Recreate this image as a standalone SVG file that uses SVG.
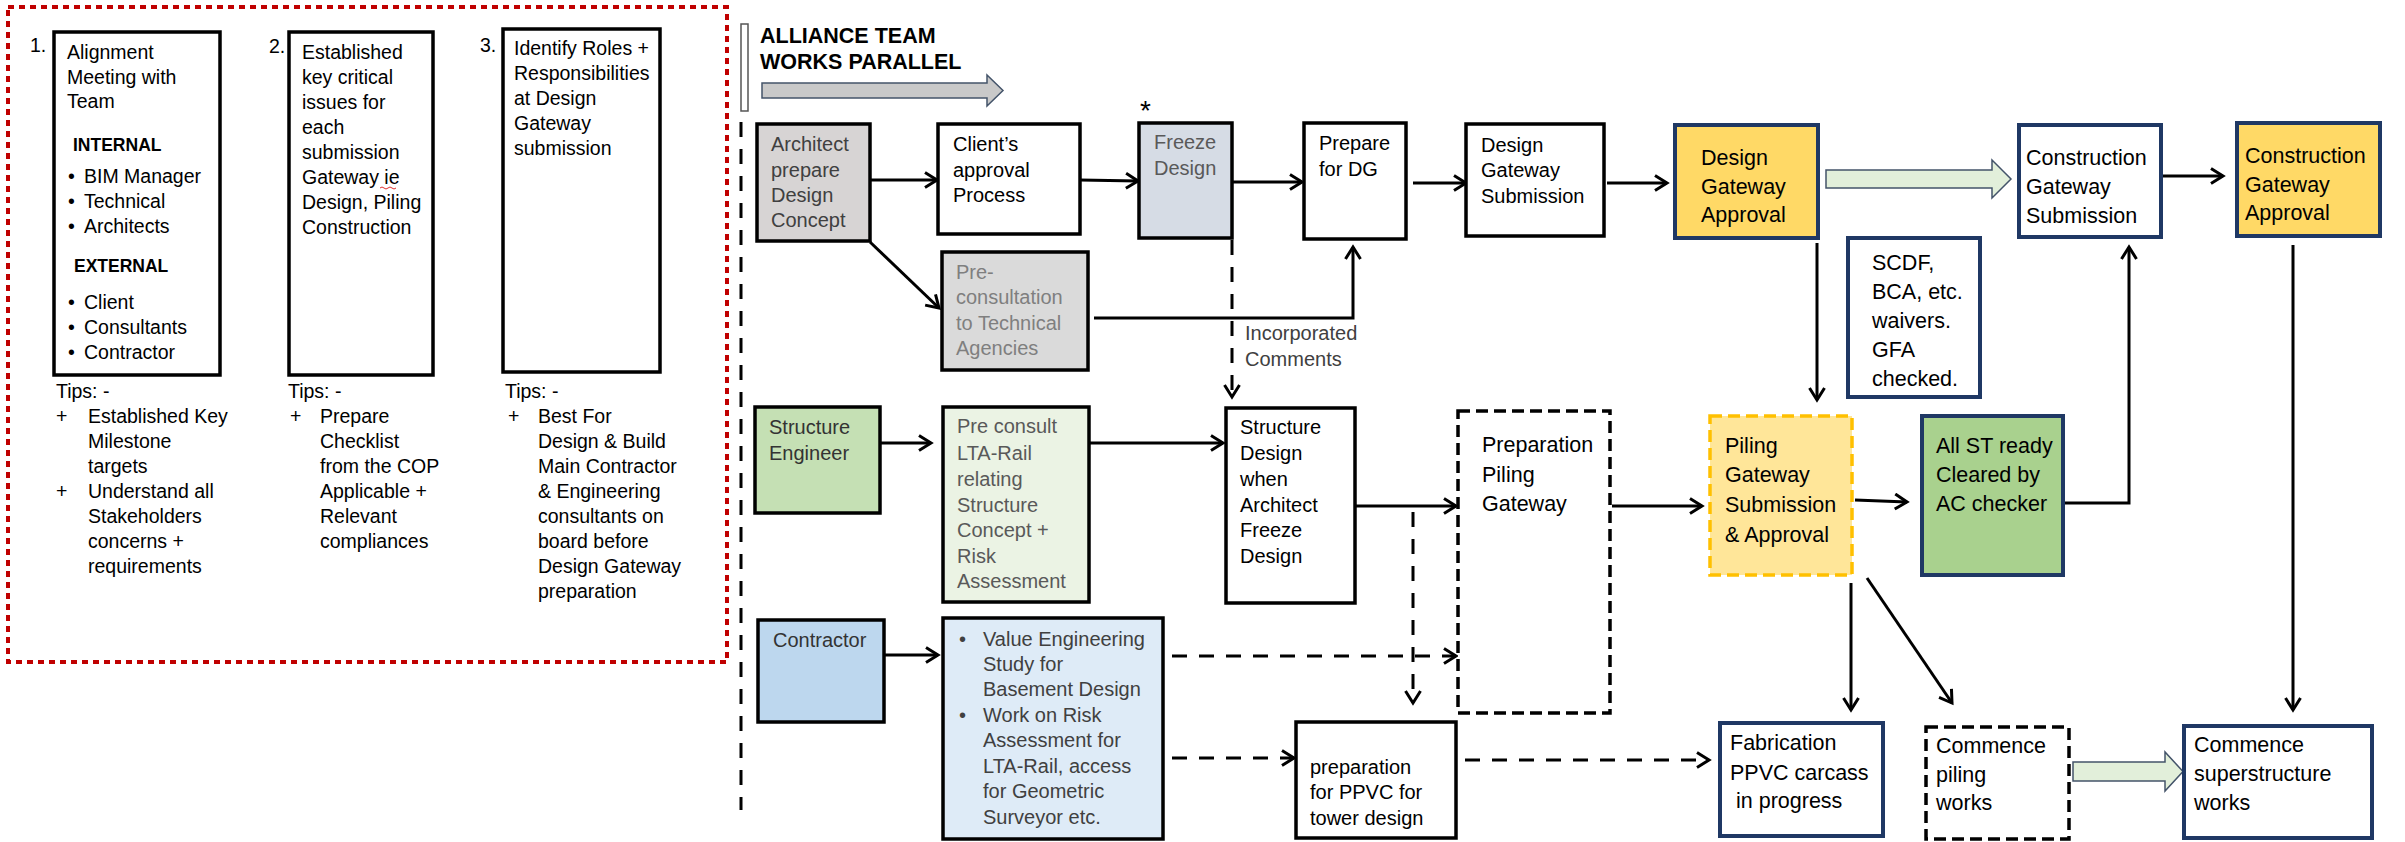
<svg xmlns="http://www.w3.org/2000/svg" width="2405" height="842" viewBox="0 0 2405 842">
<style>
text { font-family: "Liberation Sans", Arial, sans-serif; fill: #000; }
.tp { font-size: 19.5px; }
.t { font-size: 20px; }
.tl { font-size: 21.5px; }
.bold { font-weight: bold; }
.box { stroke: #000; stroke-width: 3.5; fill: #fff; }
.nv { stroke: #1f3864; stroke-width: 4; }
.dsh { stroke-dasharray: 12 6; }
.c { fill: none; stroke: #000; stroke-width: 3; }
.cd { stroke-dasharray: 15 12; }
.g1 { fill: #404040; }
.g2 { fill: #595959; }
.g3 { fill: #7f7f7f; }
</style>
<defs>
<marker id="ah" viewBox="0 0 18 18" refX="15" refY="9" markerWidth="18" markerHeight="18" orient="auto" markerUnits="userSpaceOnUse">
<path d="M3,1.5 L15,9 L3,16.5" fill="none" stroke="#000" stroke-width="3"/>
</marker>
</defs>
<rect width="2405" height="842" fill="#fff"/>

<!-- Left panel -->
<g id="left-panel">
<rect x="8" y="7" width="719" height="655" fill="none" stroke="#c00000" stroke-width="4" stroke-dasharray="6 5"/>
</g>
<g id="step1">
<text class="tp" x="30" y="52">1.</text>
<rect class="box" x="54" y="32" width="166" height="343"/>
<text class="tp" x="67" y="59">Alignment</text>
<text class="tp" x="67" y="84">Meeting with</text>
<text class="tp" x="67" y="108">Team</text>
<text class="tp bold" x="73" y="151" style="font-size:17.5px">INTERNAL</text>
<text class="tp" x="68" y="183">•</text><text class="tp" x="84" y="183">BIM Manager</text>
<text class="tp" x="68" y="208">•</text><text class="tp" x="84" y="208">Technical</text>
<text class="tp" x="68" y="233">•</text><text class="tp" x="84" y="233">Architects</text>
<text class="tp bold" x="74" y="272" style="font-size:17.5px">EXTERNAL</text>
<text class="tp" x="68" y="309">•</text><text class="tp" x="84" y="309">Client</text>
<text class="tp" x="68" y="334">•</text><text class="tp" x="84" y="334">Consultants</text>
<text class="tp" x="68" y="359">•</text><text class="tp" x="84" y="359">Contractor</text>
<text class="tp" x="56" y="398">Tips: -</text>
<text class="tp" x="56" y="423">+</text><text class="tp" x="88" y="423">Established Key</text>
<text class="tp" x="88" y="448">Milestone</text>
<text class="tp" x="88" y="473">targets</text>
<text class="tp" x="56" y="498">+</text><text class="tp" x="88" y="498">Understand all</text>
<text class="tp" x="88" y="523">Stakeholders</text>
<text class="tp" x="88" y="548">concerns +</text>
<text class="tp" x="88" y="573">requirements</text>
</g>
<g id="step2">
<text class="tp" x="269" y="53">2.</text>
<rect class="box" x="289" y="32" width="144" height="343"/>
<text class="tp" x="302" y="59">Established</text>
<text class="tp" x="302" y="84">key critical</text>
<text class="tp" x="302" y="109">issues for</text>
<text class="tp" x="302" y="134">each</text>
<text class="tp" x="302" y="159">submission</text>
<text class="tp" x="302" y="184">Gateway ie</text>
<path d="M380,188 q2,-2 4,0 t4,0 t4,0 t4,0" fill="none" stroke="#e03030" stroke-width="1"/>
<text class="tp" x="302" y="209">Design, Piling</text>
<text class="tp" x="302" y="234">Construction</text>
<text class="tp" x="288" y="398">Tips: -</text>
<text class="tp" x="290" y="423">+</text><text class="tp" x="320" y="423">Prepare</text>
<text class="tp" x="320" y="448">Checklist</text>
<text class="tp" x="320" y="473">from the COP</text>
<text class="tp" x="320" y="498">Applicable +</text>
<text class="tp" x="320" y="523">Relevant</text>
<text class="tp" x="320" y="548">compliances</text>
</g>
<g id="step3">
<text class="tp" x="480" y="52">3.</text>
<rect class="box" x="503" y="29" width="157" height="343"/>
<text class="tp" x="514" y="55">Identify Roles +</text>
<text class="tp" x="514" y="80">Responsibilities</text>
<text class="tp" x="514" y="105">at Design</text>
<text class="tp" x="514" y="130">Gateway</text>
<text class="tp" x="514" y="155">submission</text>
<text class="tp" x="505" y="398">Tips: -</text>
<text class="tp" x="508" y="423">+</text><text class="tp" x="538" y="423">Best For</text>
<text class="tp" x="538" y="448">Design &amp; Build</text>
<text class="tp" x="538" y="473">Main Contractor</text>
<text class="tp" x="538" y="498">&amp; Engineering</text>
<text class="tp" x="538" y="523">consultants on</text>
<text class="tp" x="538" y="548">board before</text>
<text class="tp" x="538" y="573">Design Gateway</text>
<text class="tp" x="538" y="598">preparation</text>
</g>

<!-- Header -->
<g id="alliance-header">
<rect x="741" y="24" width="7" height="87" fill="#fff" stroke="#555" stroke-width="1.5"/>
<text class="bold" x="760" y="43" style="font-size:21.5px">ALLIANCE TEAM</text>
<text class="bold" x="760" y="69" style="font-size:21.5px">WORKS PARALLEL</text>
<path d="M762,83 H987 V75 L1003,90.5 L987,106 V98 H762 Z" fill="#c9c9c9" stroke="#44546a" stroke-width="1.5"/>
<text x="1140" y="120" style="font-size:28px">*</text>
</g>

<!-- Connectors -->
<g id="connectors">
<path class="c cd" d="M741,122 V810" stroke-width="3.5"/>
<path class="c" d="M870,180 H937" marker-end="url(#ah)"/>
<path class="c" d="M1080,180 L1138,181" marker-end="url(#ah)"/>
<path class="c" d="M1232,182 H1302" marker-end="url(#ah)"/>
<path class="c" d="M1413,183 H1466" marker-end="url(#ah)"/>
<path class="c" d="M1607,183 H1667" marker-end="url(#ah)"/>
<path d="M1826,170 H1992 V160 L2011,179 L1992,198 V188 H1826 Z" fill="#e2efda" stroke="#44546a" stroke-width="1.5"/>
<path class="c" d="M2161,176 H2223" marker-end="url(#ah)"/>
<path class="c" d="M870,242 L939,308" marker-end="url(#ah)"/>
<path class="c" d="M1094,318 H1353 V247" marker-end="url(#ah)"/>
<path class="c cd" d="M1232,240 V397" marker-end="url(#ah)"/>
<path class="c" d="M880,443 H931" marker-end="url(#ah)"/>
<path class="c" d="M1089,443 H1223" marker-end="url(#ah)"/>
<path class="c" d="M1355,506 H1456" marker-end="url(#ah)"/>
<path class="c cd" d="M1413,512 V703" marker-end="url(#ah)"/>
<path class="c" d="M884,655 H938" marker-end="url(#ah)"/>
<path class="c cd" d="M1172,656 H1456" marker-end="url(#ah)"/>
<path class="c cd" d="M1172,758 H1294" marker-end="url(#ah)"/>
<path class="c cd" d="M1465,760 H1709" marker-end="url(#ah)"/>
<path class="c" d="M1612,506 H1702" marker-end="url(#ah)"/>
<path class="c" d="M1817,243 V400" marker-end="url(#ah)"/>
<path class="c" d="M1855,500 L1907,502" marker-end="url(#ah)"/>
<path class="c" d="M2063,503 H2129 V247" marker-end="url(#ah)"/>
<path class="c" d="M1851,583 V710" marker-end="url(#ah)"/>
<path class="c" d="M1867,578 L1952,703" marker-end="url(#ah)"/>
<path class="c" d="M2293,245 V710" marker-end="url(#ah)"/>
<path d="M2073,762 H2165 V752 L2183,771.5 L2165,791 V781 H2073 Z" fill="#e2efda" stroke="#44546a" stroke-width="1.5"/>
<text class="t g1" x="1245" y="340">Incorporated</text>
<text class="t g1" x="1245" y="366">Comments</text>
</g>

<!-- Nodes -->
<g id="architect">
<rect class="box" x="757" y="124" width="113" height="117" fill="#d7d4d4" style="fill:#d7d4d4"/>
<text class="t g1" x="771" y="151">Architect</text>
<text class="t g1" x="771" y="177">prepare</text>
<text class="t g1" x="771" y="202">Design</text>
<text class="t g1" x="771" y="227">Concept</text>
</g>
<g id="client-approval">
<rect class="box" x="938" y="124" width="142" height="110"/>
<text class="t" x="953" y="151">Client’s</text>
<text class="t" x="953" y="177">approval</text>
<text class="t" x="953" y="202">Process</text>
</g>
<g id="freeze-design">
<rect class="box" x="1139" y="123" width="93" height="115" style="fill:#d6dce5"/>
<text class="t g2" x="1154" y="149">Freeze</text>
<text class="t g2" x="1154" y="175">Design</text>
</g>
<g id="prepare-dg">
<rect class="box" x="1304" y="123" width="102" height="116"/>
<text class="t" x="1319" y="150">Prepare</text>
<text class="t" x="1319" y="176">for DG</text>
</g>
<g id="dg-submission">
<rect class="box" x="1466" y="124" width="138" height="112"/>
<text class="t" x="1481" y="152">Design</text>
<text class="t" x="1481" y="177">Gateway</text>
<text class="t" x="1481" y="203">Submission</text>
</g>
<g id="dg-approval">
<rect class="nv" x="1675" y="125" width="143" height="113" fill="#ffd966"/>
<text class="tl" x="1701" y="165">Design</text>
<text class="tl" x="1701" y="194">Gateway</text>
<text class="tl" x="1701" y="222">Approval</text>
</g>
<g id="cg-submission">
<rect class="nv" x="2019" y="125" width="142" height="112" fill="#fff"/>
<text class="tl" x="2026" y="165">Construction</text>
<text class="tl" x="2026" y="194">Gateway</text>
<text class="tl" x="2026" y="223">Submission</text>
</g>
<g id="cg-approval">
<rect class="nv" x="2237" y="123" width="143" height="113" fill="#ffd966"/>
<text class="tl" x="2245" y="163">Construction</text>
<text class="tl" x="2245" y="192">Gateway</text>
<text class="tl" x="2245" y="220">Approval</text>
</g>
<g id="pre-consultation">
<rect class="box" x="942" y="252" width="146" height="118" style="fill:#dadada"/>
<text class="t g3" x="956" y="279">Pre-</text>
<text class="t g3" x="956" y="304">consultation</text>
<text class="t g3" x="956" y="330">to Technical</text>
<text class="t g3" x="956" y="355">Agencies</text>
</g>
<g id="scdf-note">
<rect class="nv" x="1848" y="238" width="132" height="159" fill="#fff"/>
<text class="tl" x="1872" y="270">SCDF,</text>
<text class="tl" x="1872" y="299">BCA, etc.</text>
<text class="tl" x="1872" y="328">waivers.</text>
<text class="tl" x="1872" y="357">GFA</text>
<text class="tl" x="1872" y="386">checked.</text>
</g>
<g id="structure-engineer">
<rect class="box" x="755" y="407" width="125" height="106" style="fill:#c5e0b4"/>
<text class="t" x="769" y="434" style="fill:#333">Structure</text>
<text class="t" x="769" y="460" style="fill:#333">Engineer</text>
</g>
<g id="pre-consult-lta">
<rect class="box" x="943" y="407" width="146" height="195" style="fill:#ebf3e4"/>
<text class="t g2" x="957" y="433">Pre consult</text>
<text class="t g2" x="957" y="460">LTA-Rail</text>
<text class="t g2" x="957" y="486">relating</text>
<text class="t g2" x="957" y="512">Structure</text>
<text class="t g2" x="957" y="537">Concept +</text>
<text class="t g2" x="957" y="563">Risk</text>
<text class="t g2" x="957" y="588">Assessment</text>
</g>
<g id="structure-design">
<rect class="box" x="1226" y="408" width="129" height="195"/>
<text class="t" x="1240" y="434">Structure</text>
<text class="t" x="1240" y="460">Design</text>
<text class="t" x="1240" y="486">when</text>
<text class="t" x="1240" y="512">Architect</text>
<text class="t" x="1240" y="537">Freeze</text>
<text class="t" x="1240" y="563">Design</text>
</g>
<g id="preparation-piling">
<rect class="box dsh" x="1458" y="411" width="152" height="302"/>
<text class="tl" x="1482" y="452">Preparation</text>
<text class="tl" x="1482" y="482">Piling</text>
<text class="tl" x="1482" y="511">Gateway</text>
</g>
<g id="piling-gateway">
<rect x="1710" y="416" width="142" height="159" fill="#ffe699" stroke="#ffc000" stroke-width="3.5" stroke-dasharray="12 6"/>
<text class="tl" x="1725" y="453">Piling</text>
<text class="tl" x="1725" y="482">Gateway</text>
<text class="tl" x="1725" y="512">Submission</text>
<text class="tl" x="1725" y="542">&amp; Approval</text>
</g>
<g id="all-st-ready">
<rect class="nv" x="1922" y="416" width="141" height="159" fill="#a9d18e"/>
<text class="tl" x="1936" y="453">All ST ready</text>
<text class="tl" x="1936" y="482">Cleared by</text>
<text class="tl" x="1936" y="511">AC checker</text>
</g>
<g id="contractor">
<rect class="box" x="758" y="620" width="126" height="102" style="fill:#bdd7ee"/>
<text class="t" x="773" y="647" style="fill:#333">Contractor</text>
</g>
<g id="value-engineering">
<rect class="box" x="943" y="618" width="220" height="221" style="fill:#deebf7"/>
<text class="t g1" x="959" y="646">•</text><text class="t g1" x="983" y="646">Value Engineering</text>
<text class="t g1" x="983" y="671">Study for</text>
<text class="t g1" x="983" y="696">Basement Design</text>
<text class="t g1" x="959" y="722">•</text><text class="t g1" x="983" y="722">Work on Risk</text>
<text class="t g1" x="983" y="747">Assessment for</text>
<text class="t g1" x="983" y="773">LTA-Rail, access</text>
<text class="t g1" x="983" y="798">for Geometric</text>
<text class="t g1" x="983" y="824">Surveyor etc.</text>
</g>
<g id="ppvc-preparation">
<rect class="box" x="1296" y="722" width="160" height="116"/>
<text class="t" x="1310" y="774">preparation</text>
<text class="t" x="1310" y="799">for PPVC for</text>
<text class="t" x="1310" y="825">tower design</text>
</g>
<g id="fabrication">
<rect class="nv" x="1720" y="723" width="163" height="113" fill="#fff"/>
<text class="tl" x="1730" y="750">Fabrication</text>
<text class="tl" x="1730" y="780">PPVC carcass</text>
<text class="tl" x="1736" y="808">in progress</text>
</g>
<g id="commence-piling">
<rect class="box dsh" x="1926" y="727" width="143" height="112"/>
<text class="tl" x="1936" y="753">Commence</text>
<text class="tl" x="1936" y="782">piling</text>
<text class="tl" x="1936" y="810">works</text>
</g>
<g id="commence-superstructure">
<rect class="nv" x="2184" y="726" width="188" height="112" fill="#fff"/>
<text class="tl" x="2194" y="752">Commence</text>
<text class="tl" x="2194" y="781">superstructure</text>
<text class="tl" x="2194" y="810">works</text>
</g>
</svg>
